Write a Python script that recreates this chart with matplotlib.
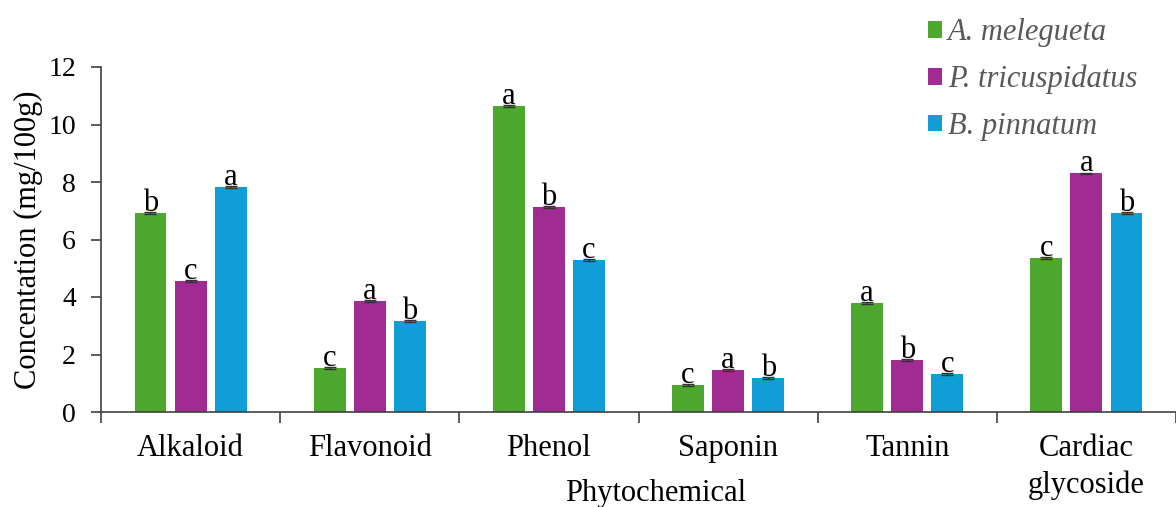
import matplotlib
matplotlib.use("Agg")
import matplotlib.pyplot as plt
import numpy as np

categories = ["Alkaloid", "Flavonoid", "Phenol", "Saponin", "Tannin", "Cardiac\nglycoside"]
series_names = ["A. melegueta", "P. tricuspidatus", "B. pinnatum"]
melegueta = [6.92, 1.52, 10.64, 0.95, 3.79, 5.36]
tricuspidatus = [4.56, 3.86, 7.14, 1.45, 1.81, 8.30]
pinnatum = [7.83, 3.16, 5.29, 1.18, 1.31, 6.92]
errors = [0.03, 0.03, 0.03]
letters_mel = ["b", "c", "a", "c", "a", "c"]
letters_tri = ["c", "a", "b", "a", "b", "a"]
letters_pin = ["a", "b", "c", "b", "c", "b"]
colors = ["#4EA72E", "#A02B93", "#0F9ED5"]
yticks = [0, 2, 4, 6, 8, 10, 12]

plt.rcParams['font.family'] = ['Liberation Serif', 'DejaVu Serif']

W, H = 1176, 507
fig = plt.figure(figsize=(W / 100, H / 100), dpi=100)
ax_left, ax_right = 101, 1176
ax_bottom, ax_top = 412, 67
ax = fig.add_axes([ax_left / W, (H - ax_bottom) / H, (ax_right - ax_left) / W, (ax_bottom - ax_top) / H])

x = np.arange(len(categories))
width = 0.178
offset = 0.224
series = [melegueta, tricuspidatus, pinnatum]
letters = [letters_mel, letters_tri, letters_pin]
handles = []
for i, (vals, col, lab, lets) in enumerate(zip(series, colors, series_names, letters)):
    pos = x + (i - 1) * offset
    b = ax.bar(pos, vals, width, color=col, label=lab, zorder=2)
    ax.errorbar(pos, vals, yerr=[errors[i]] * len(vals), fmt='none', ecolor='#333333',
                elinewidth=1, capsize=4.5, capthick=1, zorder=3)
    handles.append(b)
    for p, v, l in zip(pos, vals, lets):
        ax.annotate(l, (p, v), xytext=(0, 1.5), textcoords='offset points',
                    ha='center', va='baseline', fontsize=22, color='black')

span_px = 180.4
ax.set_xlim(-0.5, -0.5 + (ax_right - ax_left) / span_px)
ax.set_ylim(0, 12)
ax.set_yticks(yticks)
ax.set_yticklabels([str(t) for t in yticks], fontsize=20)
ax.set_xticks(x)
ax.set_xticklabels(categories, fontsize=22, va='top', linespacing=1.32)
ax.set_xticks(np.arange(-0.5, len(categories), 1.0), minor=True)
ax.tick_params(axis='x', which='major', length=0, pad=16)
ax.tick_params(axis='x', which='minor', length=8, width=1.2, color='#404040')
ax.tick_params(axis='y', which='major', length=7, width=1.2, color='#404040', pad=11)

for s in ['top', 'right']:
    ax.spines[s].set_visible(False)
for s in ['left', 'bottom']:
    ax.spines[s].set_color('#404040')
    ax.spines[s].set_linewidth(1.2)

ax.set_ylabel("Concentation (mg/100g)", fontsize=22, va='center')
ax.yaxis.set_label_coords((28 - ax_left) / (ax_right - ax_left), 0.5)

fig.text(656 / W, 1 - 494 / H, "Phytochemical", fontsize=22, ha='center', va='center')

leg = fig.legend(handles=handles, labels=series_names, loc='upper left',
                 bbox_to_anchor=(916 / W, 1 - 6 / H), frameon=False,
                 fontsize=22, handlelength=0.45, handleheight=0.45,
                 handletextpad=0.2, labelspacing=0.58, borderaxespad=0)
for t in leg.get_texts():
    t.set_fontstyle('italic')
    t.set_color('#595959')

fig.savefig("out.png", dpi=100)
